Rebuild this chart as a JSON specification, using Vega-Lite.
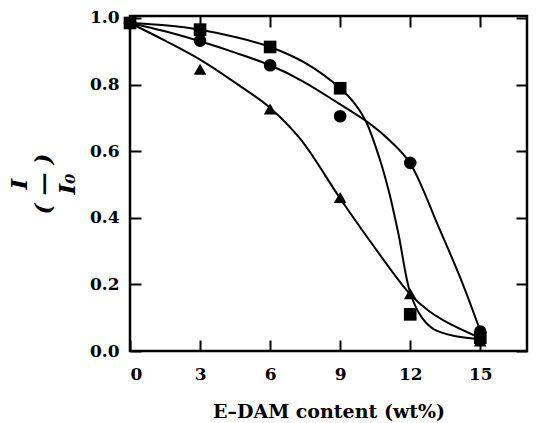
{
  "$schema": "https://vega.github.io/schema/vega-lite/v6.json",
  "width": 397,
  "height": 335,
  "autosize": {"type": "none"},
  "padding": {"left": 130, "top": 16, "right": 10, "bottom": 72},
  "background": "white",
  "config": {
    "view": {"stroke": "black", "strokeWidth": 2.5},
    "axis": {
      "domain": false,
      "grid": false,
      "tickColor": "black",
      "tickWidth": 2,
      "tickSize": -11,
      "labelFont": "DejaVu Serif",
      "labelFontWeight": "bold",
      "labelFontSize": 17,
      "labelColor": "black",
      "titleFont": "DejaVu Serif",
      "titleFontWeight": "bold",
      "titleColor": "black"
    }
  },
  "datasets": {
    "pts": [
      {"series": "square", "x": 0, "y": 0.985},
      {"series": "square", "x": 3, "y": 0.965},
      {"series": "square", "x": 6, "y": 0.913},
      {"series": "square", "x": 9, "y": 0.789},
      {"series": "square", "x": 12, "y": 0.11},
      {"series": "square", "x": 15, "y": 0.04},
      {"series": "circle", "x": 0, "y": 0.985},
      {"series": "circle", "x": 3, "y": 0.932},
      {"series": "circle", "x": 6, "y": 0.858},
      {"series": "circle", "x": 9, "y": 0.705},
      {"series": "circle", "x": 12, "y": 0.565},
      {"series": "circle", "x": 15, "y": 0.058},
      {"series": "triangle", "x": 0, "y": 0.985},
      {"series": "triangle", "x": 3, "y": 0.846},
      {"series": "triangle", "x": 6, "y": 0.727},
      {"series": "triangle", "x": 9, "y": 0.461},
      {"series": "triangle", "x": 12, "y": 0.172},
      {"series": "triangle", "x": 15, "y": 0.03}
    ],
    "curves": [
      {"series": "square", "x": 0, "y": 0.985},
      {"series": "square", "x": 1.5, "y": 0.978},
      {"series": "square", "x": 3, "y": 0.965},
      {"series": "square", "x": 4.5, "y": 0.943},
      {"series": "square", "x": 6, "y": 0.913},
      {"series": "square", "x": 7.5, "y": 0.865},
      {"series": "square", "x": 9, "y": 0.789},
      {"series": "square", "x": 9.6, "y": 0.745},
      {"series": "square", "x": 10.1, "y": 0.69},
      {"series": "square", "x": 10.7, "y": 0.575},
      {"series": "square", "x": 11.1, "y": 0.475},
      {"series": "square", "x": 11.5, "y": 0.35},
      {"series": "square", "x": 12, "y": 0.175},
      {"series": "square", "x": 12.5, "y": 0.1},
      {"series": "square", "x": 13.0, "y": 0.066},
      {"series": "square", "x": 13.9, "y": 0.045},
      {"series": "square", "x": 14.9, "y": 0.036},
      {"series": "circle", "x": 0, "y": 0.985},
      {"series": "circle", "x": 1.5, "y": 0.96},
      {"series": "circle", "x": 3, "y": 0.93},
      {"series": "circle", "x": 4.5, "y": 0.896},
      {"series": "circle", "x": 6, "y": 0.858},
      {"series": "circle", "x": 7.4, "y": 0.81},
      {"series": "circle", "x": 8.9, "y": 0.745},
      {"series": "circle", "x": 10.2, "y": 0.686},
      {"series": "circle", "x": 11.2, "y": 0.627},
      {"series": "circle", "x": 12, "y": 0.563},
      {"series": "circle", "x": 13.2, "y": 0.375},
      {"series": "circle", "x": 14.2, "y": 0.21},
      {"series": "circle", "x": 15, "y": 0.06},
      {"series": "triangle", "x": 0, "y": 0.985},
      {"series": "triangle", "x": 1.5, "y": 0.932},
      {"series": "triangle", "x": 3, "y": 0.875},
      {"series": "triangle", "x": 4.5, "y": 0.806},
      {"series": "triangle", "x": 6, "y": 0.73},
      {"series": "triangle", "x": 7.3, "y": 0.636},
      {"series": "triangle", "x": 9, "y": 0.458},
      {"series": "triangle", "x": 10.3, "y": 0.328},
      {"series": "triangle", "x": 12, "y": 0.17},
      {"series": "triangle", "x": 12.8, "y": 0.12},
      {"series": "triangle", "x": 13.6, "y": 0.085},
      {"series": "triangle", "x": 14.8, "y": 0.045}
    ]
  },
  "layer": [
    {
      "data": {"name": "curves"},
      "mark": {"type": "line", "color": "black", "strokeWidth": 2, "interpolate": "catmull-rom"},
      "encoding": {
        "x": {"field": "x", "type": "quantitative", "scale": {"domain": [0, 17], "nice": false},
          "axis": {"orient": "bottom", "values": [0, 3, 6, 9, 12, 15], "title": "E–DAM content (wt%)", "titleFontSize": 19, "titlePadding": 20, "labelPadding": 26}},
        "y": {"field": "y", "type": "quantitative", "scale": {"domain": [0, 1.006], "nice": false},
          "axis": {"orient": "left", "values": [0, 0.2, 0.4, 0.6, 0.8, 1.0], "format": ".1f", "title": ["I", "(  —  )", "I₀"], "titleFontSize": 23, "titleLineHeight": 24, "titleFontStyle": "italic", "titlePadding": 10, "labelPadding": 22}},
        "detail": {"field": "series"}
      }
    },
    {
      "data": {"name": "pts"},
      "mark": {"type": "point", "filled": true, "color": "black", "opacity": 1, "size": 160},
      "encoding": {
        "x": {"field": "x", "type": "quantitative", "axis": null},
        "y": {"field": "y", "type": "quantitative", "axis": null},
        "shape": {"field": "series", "type": "nominal", "scale": {"domain": ["square", "circle", "triangle"], "range": ["square", "circle", "triangle-up"]}, "legend": null}
      }
    },
    {
      "data": {"name": "pts"},
      "mark": {"type": "point", "opacity": 0},
      "encoding": {
        "x": {"field": "x", "type": "quantitative", "axis": {"orient": "top", "values": [0, 3, 6, 9, 12, 15], "labels": false, "title": null}},
        "y": {"field": "y", "type": "quantitative", "axis": {"orient": "right", "values": [0, 0.2, 0.4, 0.6, 0.8, 1.0], "labels": false, "title": null}}
      }
    }
  ],
  "resolve": {"axis": {"x": "independent", "y": "independent"}}
}
